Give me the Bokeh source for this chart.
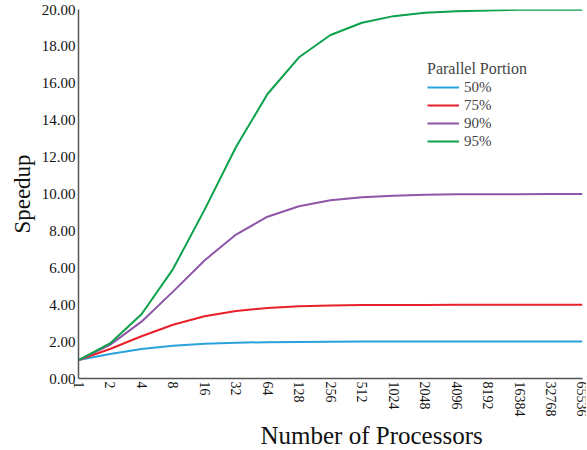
from bokeh.plotting import figure
from bokeh.models import FixedTicker, Range1d, Legend, LegendItem, Title
from bokeh.embed import file_html
from bokeh.resources import INLINE

processors = ["1", "2", "4", "8", "16", "32", "64", "128", "256", "512", "1024",
              "2048", "4096", "8192", "16384", "32768", "65536"]
speedup_50 = [1.00, 1.33, 1.60, 1.78, 1.88, 1.94, 1.97, 1.98, 1.99, 2.00, 2.00,
              2.00, 2.00, 2.00, 2.00, 2.00, 2.00]
speedup_75 = [1.00, 1.60, 2.29, 2.91, 3.37, 3.66, 3.82, 3.91, 3.95, 3.98, 3.99,
              3.99, 4.00, 4.00, 4.00, 4.00, 4.00]
speedup_90 = [1.00, 1.82, 3.08, 4.71, 6.40, 7.80, 8.77, 9.34, 9.66, 9.83, 9.91,
              9.96, 9.98, 9.99, 9.99, 10.00, 10.00]
speedup_95 = [1.00, 1.90, 3.48, 5.93, 9.14, 12.55, 15.42, 17.41, 18.62, 19.28, 19.64,
              19.82, 19.91, 19.95, 19.98, 19.99, 19.99]
series_names = ["50%", "75%", "90%", "95%"]
y_ticks = [0, 2, 4, 6, 8, 10, 12, 14, 16, 18, 20]

FONT = "Liberation Serif"
colors = ["#29a3dd", "#e8202a", "#8e55a8", "#0ca14a"]

xs = list(range(len(processors)))

p = figure(width=586, height=448, output_backend="svg", toolbar_location=None,
           x_range=Range1d(0, len(processors) - 1), y_range=Range1d(0, 20),
           min_border_left=78, min_border_right=4, min_border_top=9, min_border_bottom=0)
p.outline_line_color = None
p.grid.visible = False

items = []
for name, ys, c in zip(series_names, [speedup_50, speedup_75, speedup_90, speedup_95], colors):
    r = p.line(xs, ys, line_color=c, line_width=2)
    items.append(LegendItem(label=name, renderers=[r]))

p.xaxis.ticker = FixedTicker(ticks=xs)
p.xaxis.major_label_overrides = {i: s for i, s in enumerate(processors)}
p.xaxis.major_label_orientation = "vertical"
p.yaxis.ticker = FixedTicker(ticks=y_ticks)
p.yaxis.major_label_overrides = {v: f"{v:.2f}" for v in y_ticks}

for ax in (p.xaxis, p.yaxis):
    ax.major_tick_out = 0
    ax.major_tick_in = 0
    ax.minor_tick_out = 0
    ax.minor_tick_in = 0
    ax.axis_line_color = "#555555"
    ax.axis_line_width = 1.5
    ax.major_label_text_font = FONT
    ax.major_label_text_font_size = "15px"
    ax.major_label_text_color = "#111111"
    ax.major_label_standoff = 3
p.xaxis.major_label_text_font_size = "14px"

p.yaxis.axis_label = "Speedup"
p.yaxis.axis_label_text_font = FONT
p.yaxis.axis_label_text_font_size = "23px"
p.yaxis.axis_label_text_font_style = "normal"
p.yaxis.axis_label_text_color = "#111111"
p.yaxis.axis_label_standoff = 4

xt = Title(text="Number of Processors", align="left", offset=182,
           text_font=FONT, text_font_size="25px", text_font_style="normal",
           text_color="#111111", standoff=0, text_line_height=0.9)
p.add_layout(xt, "below")

legend = Legend(items=items, title="Parallel Portion", location=(349, 228),
                border_line_color=None, background_fill_alpha=0,
                label_text_font=FONT, label_text_font_size="15px",
                title_text_font=FONT, title_text_font_size="16px",
                title_text_font_style="normal",
                glyph_width=32, glyph_height=18, label_height=18,
                spacing=0, padding=2, title_standoff=0)
p.add_layout(legend, "center")

open("out.html", "w").write(file_html(p, INLINE))
